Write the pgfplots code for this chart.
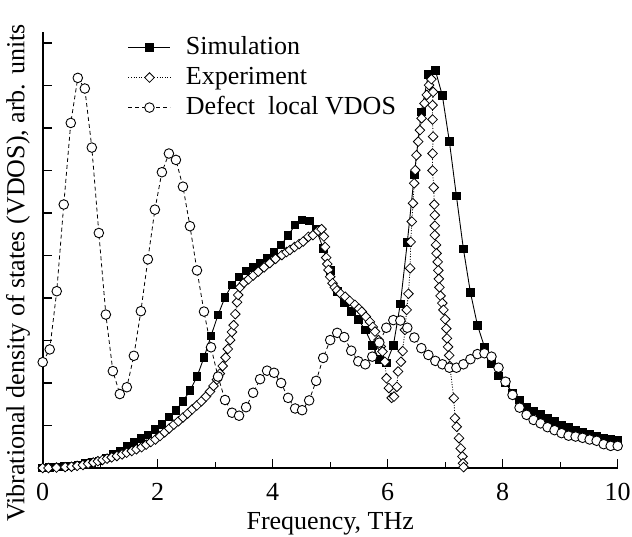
\documentclass[border=0pt]{standalone}
\usepackage{fontspec}
\setmainfont{Liberation Serif}
\usepackage{pgfplots}
\pgfplotsset{compat=1.18}
\begin{document}
\fontsize{26bp}{30bp}\selectfont
\begin{tikzpicture}
\begin{axis}[
  scale only axis, width=575bp, height=436bp,
  xmin=0, xmax=10, ymin=0, ymax=10.26,
  axis x line=bottom, axis y line=left,
  axis line style={line width=2bp,-},
  clip=false,
  xtick={0,2,4,6,8,10}, minor xtick={1,3,5,7,9},
  ytick={0,1,2,3,4,5,6,7,8,9,10}, yticklabels={},
  tick align=inside, major tick length=9bp, minor tick length=6bp,
  tick style={line width=1.3bp, black},
  /pgf/number format/assume math mode=true,
  xticklabel style={anchor=base, yshift=-33bp},
  xlabel={Frequency, THz},
  xlabel style={at={(axis description cs:0.5,-0.140)}, anchor=base},
  ylabel={Vibrational density of states (VDOS), arb. units},
  ylabel style={at={(axis description cs:-0.043,0.447)}, anchor=center},
  legend image code/.code={\draw[mark repeat=2,mark phase=2,#1] plot coordinates {(0bp,0bp) (21bp,0bp) (42bp,0bp)};},
  legend style={at={(axis description cs:0.148,0.998)}, anchor=north west, draw=none, fill=none, inner sep=0pt,
    nodes={inner sep=2bp, text height=19bp, text depth=6bp}, row sep=1bp,
    /tikz/every odd column/.append style={column sep=13bp}},
  legend cell align=left,
]
\addplot[black, line width=0.9bp, mark=square*, mark size=3.8bp, mark options={solid, fill=black}] coordinates {
(0.000,0.00)(0.122,0.01)(0.244,0.02)(0.366,0.03)(0.488,0.05)(0.610,0.07)(0.732,0.10)(0.854,0.13)(0.976,0.17)(1.098,0.24)
(1.220,0.33)(1.341,0.40)(1.463,0.50)(1.585,0.60)(1.707,0.70)(1.829,0.78)(1.951,0.90)(2.073,1.03)(2.195,1.20)(2.317,1.36)
(2.439,1.57)(2.561,1.82)(2.683,2.15)(2.805,2.60)(2.927,3.11)(3.049,3.60)(3.171,4.02)(3.293,4.31)(3.415,4.50)(3.537,4.64)
(3.659,4.72)(3.780,4.82)(3.902,4.94)(4.024,5.07)(4.146,5.25)(4.268,5.47)(4.390,5.72)(4.512,5.84)(4.634,5.81)(4.756,5.61)
(4.878,5.17)(5.000,4.65)(5.122,4.15)(5.244,3.88)(5.366,3.68)(5.488,3.49)(5.610,3.25)(5.732,2.89)(5.854,2.55)(5.976,2.47)
(6.098,2.88)(6.220,3.86)(6.341,5.31)(6.463,6.90)(6.585,8.38)(6.707,9.26)(6.829,9.36)(6.951,8.76)(7.073,7.68)(7.195,6.40)
(7.317,5.15)(7.439,4.13)(7.561,3.36)(7.683,2.85)(7.805,2.46)(7.927,2.17)(8.049,2.01)(8.171,1.77)(8.293,1.60)(8.415,1.44)
(8.537,1.34)(8.659,1.26)(8.780,1.17)(8.902,1.09)(9.024,1.01)(9.146,0.95)(9.268,0.89)(9.390,0.84)(9.512,0.79)(9.634,0.75)
(9.756,0.71)(9.878,0.68)(10.000,0.66)};
\addlegendentry{Simulation}
\addplot[black, line width=0.8bp, dash pattern=on 1bp off 1.6bp, mark=square*, mark size=3.4bp, mark options={solid, fill=white, line width=0.8bp, rotate=45}] coordinates {
(0.00,0.00)(0.10,0.00)(0.24,0.01)(0.39,0.02)(0.50,0.03)(0.60,0.05)(0.70,0.07)(0.79,0.10)(0.88,0.13)(0.96,0.16)
(1.04,0.19)(1.12,0.22)(1.20,0.25)(1.29,0.28)(1.38,0.32)(1.46,0.36)(1.55,0.40)(1.63,0.44)(1.72,0.49)(1.80,0.55)
(1.88,0.61)(1.96,0.67)(2.04,0.75)(2.12,0.84)(2.20,0.93)(2.28,1.02)(2.36,1.10)(2.44,1.19)(2.52,1.28)(2.60,1.38)
(2.68,1.47)(2.76,1.57)(2.84,1.68)(2.91,1.80)(2.97,1.93)(3.03,2.08)(3.08,2.22)(3.13,2.40)(3.18,2.60)(3.22,2.80)
(3.26,3.01)(3.29,3.20)(3.32,3.36)(3.35,3.62)(3.38,3.90)(3.40,4.07)(3.43,4.25)(3.50,4.36)(3.58,4.44)(3.66,4.53)
(3.75,4.62)(3.85,4.72)(3.95,4.82)(4.05,4.92)(4.16,5.01)(4.24,5.08)(4.30,5.13)(4.38,5.20)(4.46,5.27)(4.53,5.33)
(4.62,5.44)(4.70,5.48)(4.79,5.58)(4.85,5.62)(4.89,5.45)(4.91,5.20)(4.93,4.95)(4.95,4.80)(4.97,4.66)(5.00,4.50)
(5.04,4.35)(5.08,4.25)(5.12,4.18)(5.18,4.10)(5.26,4.03)(5.34,3.93)(5.43,3.84)(5.50,3.75)(5.55,3.68)(5.62,3.56)
(5.69,3.44)(5.74,3.32)(5.78,3.21)(5.84,3.01)(5.88,2.86)(5.91,2.74)(5.95,2.50)(5.98,2.11)(6.02,1.88)(6.07,1.65)
(6.11,1.68)(6.16,1.91)(6.18,2.27)(6.23,2.50)(6.26,2.75)(6.30,3.25)(6.33,3.72)(6.36,4.10)(6.39,4.70)(6.40,5.32)
(6.42,5.80)(6.44,6.23)(6.46,6.70)(6.48,7.01)(6.50,7.36)(6.53,7.68)(6.56,7.95)(6.59,8.23)(6.64,8.58)(6.68,8.78)
(6.72,9.01)(6.76,9.15)(6.79,8.85)(6.78,8.54)(6.78,8.20)(6.79,7.80)(6.78,7.40)(6.78,7.00)(6.80,6.60)(6.81,6.20)
(6.82,5.95)(6.82,5.70)(6.82,5.48)(6.84,5.25)(6.85,5.05)(6.87,4.85)(6.88,4.65)(6.89,4.45)(6.90,4.25)(6.92,4.05)
(6.95,3.88)(6.97,3.72)(7.00,3.50)(7.02,3.28)(7.03,3.05)(7.05,2.85)(7.07,2.65)(7.08,2.40)(7.15,1.64)(7.17,1.17)
(7.20,0.97)(7.24,0.70)(7.27,0.46)(7.30,0.27)(7.31,0.11)(7.32,0.02)};
\addlegendentry{Experiment}
\addplot[black, line width=0.8bp, dash pattern=on 4bp off 3bp, mark=*, mark size=4.8bp, mark options={solid, fill=white, draw=black, line width=0.9bp}] coordinates {
(0.000,2.49)(0.122,2.79)(0.244,4.16)(0.366,6.20)(0.488,8.12)(0.610,9.18)(0.732,8.93)(0.854,7.54)(0.976,5.53)(1.098,3.61)
(1.220,2.28)(1.341,1.74)(1.463,1.90)(1.585,2.64)(1.707,3.69)(1.829,4.91)(1.951,6.08)(2.073,6.96)(2.195,7.40)(2.317,7.25)
(2.439,6.62)(2.561,5.69)(2.683,4.65)(2.805,3.68)(2.927,2.84)(3.049,2.15)(3.171,1.60)(3.293,1.30)(3.415,1.23)(3.537,1.43)
(3.659,1.77)(3.780,2.09)(3.902,2.29)(4.024,2.24)(4.146,2.00)(4.268,1.65)(4.390,1.40)(4.512,1.36)(4.634,1.59)(4.756,2.05)
(4.878,2.59)(5.000,3.01)(5.122,3.18)(5.244,3.08)(5.366,2.76)(5.488,2.51)(5.610,2.44)(5.732,2.62)(5.854,2.95)(5.976,3.30)
(6.098,3.48)(6.220,3.47)(6.341,3.30)(6.463,3.07)(6.585,2.82)(6.707,2.66)(6.829,2.52)(6.951,2.44)(7.073,2.36)(7.195,2.36)
(7.317,2.44)(7.439,2.56)(7.561,2.68)(7.683,2.70)(7.805,2.62)(7.927,2.36)(8.049,2.03)(8.171,1.72)(8.293,1.42)(8.415,1.25)
(8.537,1.13)(8.659,1.05)(8.780,0.96)(8.902,0.89)(9.024,0.82)(9.146,0.76)(9.268,0.74)(9.390,0.71)(9.512,0.67)(9.634,0.64)
(9.756,0.56)(9.878,0.52)(10.000,0.52)};
\addlegendentry{Defect\ \ local VDOS}
\coordinate (bbll) at (rel axis cs:-0.0743,-0.1583);
\coordinate (bbur) at (rel axis cs:1.0249,1.0734);
\end{axis}
\pgfresetboundingbox
\path[use as bounding box] (bbll) rectangle (bbur);
\end{tikzpicture}
\end{document}
